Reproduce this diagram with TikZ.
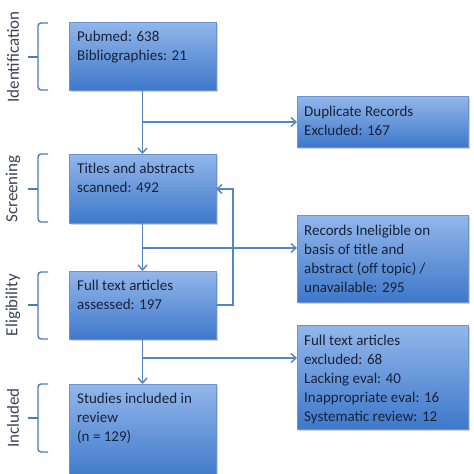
\documentclass[tikz,border=0pt]{standalone}
\usepackage{fontspec}
\setmainfont{Carlito}
\usetikzlibrary{arrows.meta,shadows}
\definecolor{boxtop}{HTML}{93B7EA}
\definecolor{boxbot}{HTML}{3E78CA}
\definecolor{boxline}{HTML}{6B93CF}
\definecolor{linkc}{HTML}{5685C2}
\definecolor{bracec}{HTML}{4A7EBB}
\definecolor{txtc}{HTML}{18223A}
\tikzset{
  flowbox/.style={draw=boxline, line width=0.8pt, top color=boxtop, bottom color=boxbot,
    inner sep=0pt, outer sep=0pt,
    drop shadow={shadow xshift=1.5pt, shadow yshift=-1.5pt, fill=black!35, opacity=0.5}},
  boxtext/.style={anchor=north west, align=left, text=txtc, inner sep=0pt,
    font=\fontsize{15}{19}\selectfont},
  link/.style={draw=linkc, line width=1.4pt, -{Straight Barb[length=5pt,width=9pt]}},
  brace/.style={draw=bracec, line width=1.4pt, rounded corners=3pt},
  phase/.style={rotate=90, text=txtc!85, font=\fontsize{17}{20}\selectfont, inner sep=0pt}
}
\begin{document}
\begin{tikzpicture}[x=1pt,y=-1pt]
\useasboundingbox (0,0) rectangle (474,474);
\begin{scope}
\clip (0,0) rectangle (474,474);
% left column
\path[flowbox] (69,22) rectangle (216,90);
\path[flowbox] (69,154) rectangle (216,223);
\path[flowbox] (69,271) rectangle (216,339);
\path[flowbox] (69,384) rectangle (216,480);
% right column
\path[flowbox] (297,96) rectangle (468,147);
\path[flowbox] (297,215) rectangle (468,302);
\path[flowbox] (297,325) rectangle (468,429);
\end{scope}
% named anchors of the boxes
\coordinate (id) at (142.5,90);
\coordinate (sc) at (142.5,154);
\coordinate (scB) at (142.5,223);
\coordinate (scE) at (216,189);
\coordinate (el) at (142.5,271);
\coordinate (elB) at (142.5,339);
\coordinate (elE) at (216,305);
\coordinate (inc) at (142.5,384);
\coordinate (dup) at (297,122);
\coordinate (inel) at (297,248);
\coordinate (excl) at (297,358);
\coordinate (j1) at (142.5,122);
\coordinate (j2) at (142.5,248);
\coordinate (j3) at (142.5,358);
\coordinate (loopA) at (233,305);
\coordinate (loopB) at (233,189);
% texts
\node[boxtext] (t1) at (77,31) {Pubmed: 638\\Bibliographies: 21};
\node[boxtext] (t2) at (77,163) {Titles and abstracts\\scanned: 492};
\node[boxtext] (t3) at (77,280) {Full text articles\\assessed: 197};
\node[boxtext] (t4) at (77,393) {Studies included in\\review\\(n = 129)};
\node[boxtext] (t5) at (304,106) {Duplicate Records\\Excluded: 167};
\node[boxtext] (t6) at (304,225) {Records Ineligible on\\basis of title and\\abstract (off topic) /\\unavailable: 295};
\node[boxtext] (t7) at (304,334.5) {Full text articles\\excluded: 68\\Lacking eval: 40\\Inappropriate eval: 16\\Systematic review: 12};
% connectors
\draw[link] (id) -- (sc);
\draw[link] (j1) -- (dup);
\draw[link] (scB) -- (el);
\draw[link] (j2) -- (inel);
\draw[link] (elB) -- (inc);
\draw[link] (j3) -- (excl);
\draw[link] (elE) -- (loopA) -- (loopB) -- (scE);
% phase brackets
\foreach \t/\b/\m/\lab in {23/90/57/Identification, 154/222/189/Screening, 272/339/305/Eligibility, 384/452/418/Included}{
  \draw[brace] (48,\t) -- (38,\t) -- (38,\b) -- (48,\b);
  \draw[brace] (28,\m) -- (38,\m);
  \node[phase] at (13,\m) {\lab};
}
\end{tikzpicture}
\end{document}
